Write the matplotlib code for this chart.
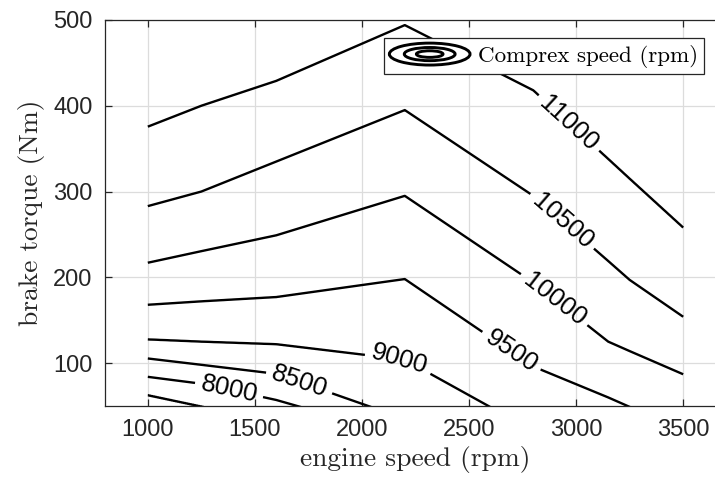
import numpy as np
import matplotlib
matplotlib.use("Agg")
import matplotlib.pyplot as plt
from matplotlib.legend_handler import HandlerBase
from matplotlib.patches import Ellipse

# ---- data ----
engine_speed = [1000, 1250, 1600, 2200, 2800, 3150, 3250, 3500]   # rpm nodes
levels = [7500, 8000, 8500, 9000, 9500, 10000, 10500, 11000]      # compressor speed (rpm)
# brake torque (Nm) where each iso-speed line crosses each engine-speed node
torque_7500 = [62.7, 49.5, 30, 0, -40, -70, -80, -110]
torque_8000 = [84, 76, 57, 14, -30, -60, -70, -100]
torque_8500 = [105.4, 98, 87.5, 35, -17, -48, -58, -85]
torque_9000 = [127.6, 125, 122, 104, 21, -27, -41, -70]
torque_9500 = [168, 172, 177, 198, 96, 60, 49, 23]
torque_10000 = [217, 230.5, 249, 295, 194, 125, 114, 87]
torque_10500 = [283, 300, 335, 395, 295, 219, 197, 154]
torque_11000 = [375.6, 400, 429, 494, 418, 338, 315, 258]
line_torques = [torque_7500, torque_8000, torque_8500, torque_9000,
                torque_9500, torque_10000, torque_10500, torque_11000]

# label anchor points (engine speed, torque) for 8000 ... 11000
label_pos = [(1375, 64), (1706, 77), (2173, 101), (2692, 112),
             (2888, 171), (2930, 264), (2967, 380)]

xticks = [1000, 1500, 2000, 2500, 3000, 3500]
yticks = [100, 200, 300, 400, 500]

# ---- build a field whose iso-lines pass through the read points ----
xs = np.linspace(engine_speed[0], engine_speed[-1], 1251)
ys = np.linspace(-200, 520, 1441)
Z = np.empty((len(ys), len(xs)))
lv = np.array(levels, dtype=float)
step = lv[1] - lv[0]
lv_pad = np.concatenate([[lv[0] - step], lv, [lv[-1] + step]])
for j, xv in enumerate(xs):
    yk = np.array([np.interp(xv, engine_speed, t) for t in line_torques])
    yk_pad = np.concatenate([[yk[0] - 200], yk, [yk[-1] + 200]])
    Z[:, j] = np.interp(ys, yk_pad, lv_pad)
X, Y = np.meshgrid(xs, ys)

# ---- figure ----
plt.rcParams['font.family'] = ['Liberation Sans', 'DejaVu Sans']
fig = plt.figure(figsize=(7.15, 4.79), dpi=100)
ax_left, ax_bottom = 105 / 715, (479 - 406) / 479
ax_w, ax_h = 621 / 715, 386 / 479
ax = fig.add_axes([ax_left, ax_bottom, ax_w, ax_h])

ax.set_xlim(800, 3700)
ax.set_ylim(50, 500)

cs = ax.contour(X, Y, Z, levels=levels, colors='k', linewidths=1.7)
ax.clabel(cs, manual=label_pos, inline=True,
          fmt='%d', fontsize=18.5, inline_spacing=6, colors='k')

ax.set_xlim(800, 3700)
ax.set_ylim(50, 500)
ax.set_xticks(xticks)
ax.set_yticks(yticks)
ax.grid(True, color='#dcdcdc', linewidth=0.9)
ax.set_axisbelow(True)
for s in ax.spines.values():
    s.set_color('#262626')
    s.set_linewidth(0.9)
ax.tick_params(direction='in', length=5, width=0.9, top=True, right=True,
               colors='#262626', labelsize=17, pad=9)

ax.set_xlabel('engine speed (rpm)', family='cmr10', fontsize=19.8, color='#262626', labelpad=4)
ax.set_ylabel('brake torque (Nm)', family='cmr10', fontsize=19.8, color='#262626', labelpad=6)


class ContourProxy:
    pass


class HandlerContour(HandlerBase):
    def create_artists(self, legend, orig_handle, xdescent, ydescent,
                       width, height, fontsize, trans):
        cx = width / 2 - xdescent
        cy = height / 2 - ydescent
        H = 15.8
        arts = []
        for fw, fh in [(1.0, 1.0), (0.63, 0.6), (0.33, 0.3)]:
            e = Ellipse((cx, cy), width * fw, H * fh, fill=False,
                        edgecolor='k', lw=2.1, transform=trans)
            arts.append(e)
        return arts


leg = ax.legend([ContourProxy()], ['Comprex speed (rpm)'],
                handler_map={ContourProxy: HandlerContour()},
                loc='upper right', bbox_to_anchor=((704 - 105) / 621, 1 - (38 - 20) / 386),
                borderaxespad=0, fancybox=False, framealpha=1,
                handlelength=3.5, handleheight=1.0, handletextpad=0.35,
                borderpad=0.25, prop={'family': 'cmr10', 'size': 16.6})
leg.get_frame().set_edgecolor('#262626')
leg.get_frame().set_linewidth(0.9)

fig.savefig('out.png', dpi=100)
